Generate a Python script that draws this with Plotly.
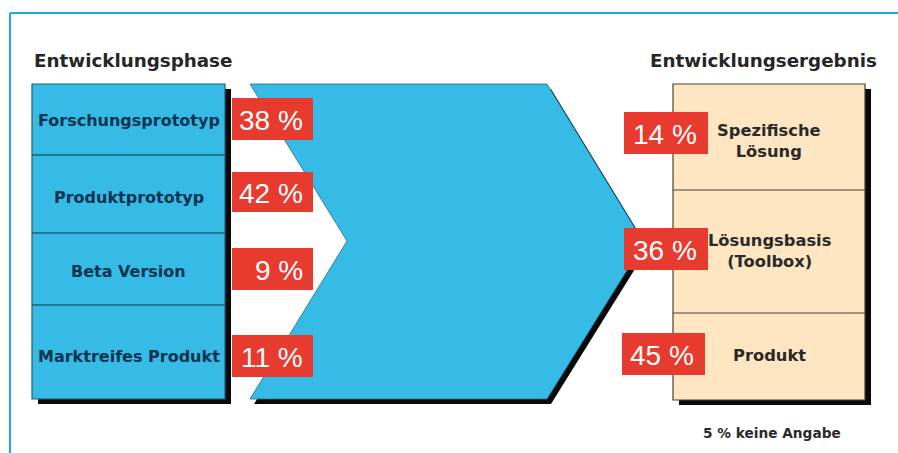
import plotly.graph_objects as go

# ---- data ----
title_left = "Entwicklungsphase"
title_right = "Entwicklungsergebnis"
phases = ["Forschungsprototyp", "Produktprototyp", "Beta Version", "Marktreifes Produkt"]
phase_pct = [38, 42, 9, 11]
results = ["Spezifische<br>Lösung", "Lösungsbasis<br>(Toolbox)", "Produkt"]
result_pct = [14, 36, 45]
no_answer_pct = 5

# ---- layout geometry (pixel space) ----
W, H = 898, 453
BLUE = "#35bbe5"
BEIGE = "#fde6c1"
RED = "#e63b2e"
FRAME = "#1fa6e0"
SH = (6, 5)  # shadow offset

left_box = (32, 84, 225, 399)
left_bounds = [84, 155, 233, 305, 399]
left_text_y = [120, 197, 271, 356]
left_red_y = [(98, 140), (172, 212), (248, 290), (335, 377)]
left_red_x = (232, 313)

right_box = (673, 84, 865, 400)
right_bounds = [84, 190, 313, 400]
right_text_y = [141, 251, 355]
right_red_y = [(112, 154), (228, 270), (333, 375)]
right_red_x = [(624, 708), (624, 708), (622, 705)]

arrow = [(250, 84), (547, 84), (644, 243), (547, 399), (250, 399), (347, 241)]

shapes = []
annotations = []

# frame
shapes.append(dict(type="line", x0=10, y0=13, x1=W, y1=13, line=dict(color=FRAME, width=2)))
shapes.append(dict(type="line", x0=10, y0=13, x1=10, y1=H, line=dict(color=FRAME, width=2)))


def rect_shadow(b):
    x0, y0, x1, y1 = b
    shapes.append(dict(type="rect", x0=x0 + SH[0], y0=y0 + SH[1], x1=x1 + SH[0], y1=y1 + SH[1],
                       fillcolor="#0a0a0a", line=dict(width=0)))


def poly_path(pts, dx=0, dy=0):
    return "M " + " L ".join(f"{x + dx},{y + dy}" for x, y in pts) + " Z"


# arrow shadow + arrow
shapes.append(dict(type="path", path=poly_path(arrow, 4, 5), fillcolor="#0a0a0a", line=dict(width=0)))
shapes.append(dict(type="path", path=poly_path(arrow), fillcolor=BLUE, line=dict(color="#1f6f8c", width=0.8)))

# left box
rect_shadow(left_box)
shapes.append(dict(type="rect", x0=left_box[0], y0=left_box[1], x1=left_box[2], y1=left_box[3],
                   fillcolor=BLUE, line=dict(color="#1b5f7c", width=1.2)))
for yb in left_bounds[1:-1]:
    shapes.append(dict(type="line", x0=left_box[0], x1=left_box[2], y0=yb, y1=yb,
                       line=dict(color="#1b5f7c", width=1.5)))

# right box
rect_shadow(right_box)
shapes.append(dict(type="rect", x0=right_box[0], y0=right_box[1], x1=right_box[2], y1=right_box[3],
                   fillcolor=BEIGE, line=dict(color="#4a4030", width=1.2)))
for yb in right_bounds[1:-1]:
    shapes.append(dict(type="line", x0=right_box[0], x1=right_box[2], y0=yb, y1=yb,
                       line=dict(color="#4a4030", width=1.2)))

# titles
annotations.append(dict(x=32, y=60, text=f"<b>{title_left}</b>", xanchor="left", yanchor="middle",
                        showarrow=False, font=dict(family="DejaVu Sans", size=18.3, color="#262626")))
annotations.append(dict(x=879, y=60, text=f"<b>{title_right}</b>", xanchor="right", yanchor="middle",
                        showarrow=False, font=dict(family="DejaVu Sans", size=18.3, color="#262626")))

# left labels
cx_left = (left_box[0] + left_box[2]) / 2
for name, ty in zip(phases, left_text_y):
    annotations.append(dict(x=cx_left, y=ty, text=f"<b>{name}</b>", xanchor="center", yanchor="middle",
                            showarrow=False, font=dict(family="DejaVu Sans", size=16, color="#0c3350")))

# left red tags
for pct, (y0, y1) in zip(phase_pct, left_red_y):
    shapes.append(dict(type="rect", x0=left_red_x[0], x1=left_red_x[1], y0=y0, y1=y1,
                       fillcolor=RED, line=dict(width=0)))
    annotations.append(dict(x=left_red_x[1] - 8, y=(y0 + y1) / 2 + 1, text=f"{pct} %", xanchor="right",
                            yanchor="middle", showarrow=False,
                            font=dict(family="Liberation Sans", size=28, color="white")))

# right labels
cx_right = (right_box[0] + right_box[2]) / 2
for name, ty in zip(results, right_text_y):
    annotations.append(dict(x=cx_right, y=ty, text=f"<b>{name}</b>", xanchor="center", yanchor="middle",
                            showarrow=False, font=dict(family="DejaVu Sans", size=16.3, color="#2a2a2a")))

# right red tags
for pct, (y0, y1), (x0, x1) in zip(result_pct, right_red_y, right_red_x):
    shapes.append(dict(type="rect", x0=x0, x1=x1, y0=y0, y1=y1, fillcolor=RED, line=dict(width=0)))
    annotations.append(dict(x=x1 - 9, y=(y0 + y1) / 2 + 1, text=f"{pct} %", xanchor="right",
                            yanchor="middle", showarrow=False,
                            font=dict(family="Liberation Sans", size=28, color="white")))

# footnote
annotations.append(dict(x=772, y=433, text=f"<b>{no_answer_pct} % keine Angabe</b>", xanchor="center",
                        yanchor="middle", showarrow=False,
                        font=dict(family="DejaVu Sans", size=13.7, color="#2a2a2a")))

fig = go.Figure()
fig.update_layout(
    width=W, height=H,
    margin=dict(l=0, r=0, t=0, b=0),
    paper_bgcolor="white", plot_bgcolor="white",
    xaxis=dict(range=[0, W], visible=False, fixedrange=True),
    yaxis=dict(range=[H, 0], visible=False, fixedrange=True),
    shapes=shapes, annotations=annotations, showlegend=False,
)
fig.write_html("out.html")
